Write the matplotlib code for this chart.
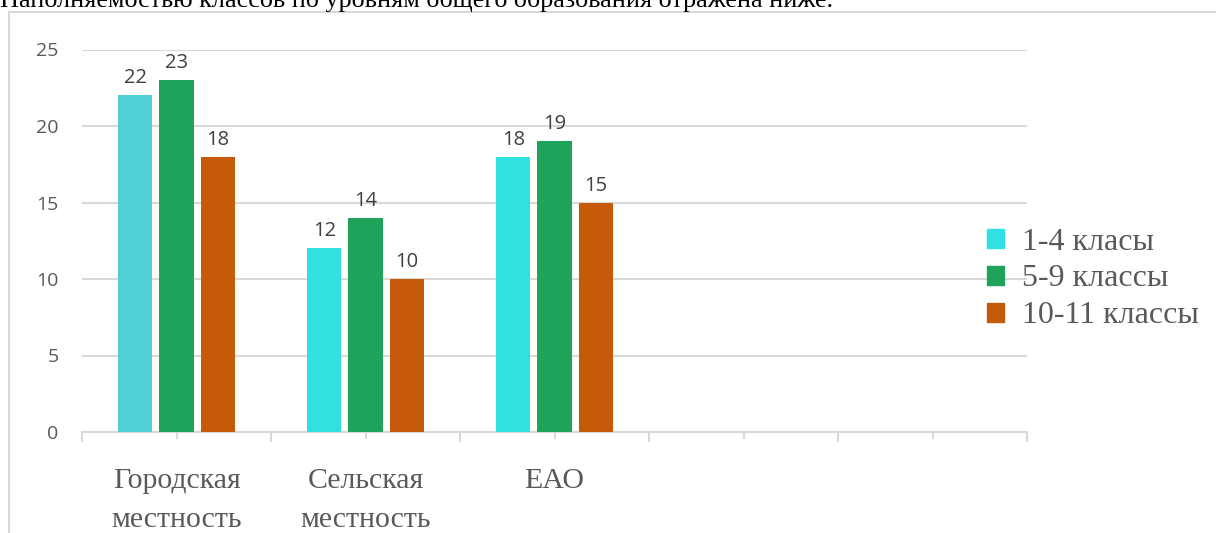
import matplotlib
matplotlib.use("Agg")
import matplotlib.pyplot as plt
from matplotlib.patches import Rectangle
from matplotlib.lines import Line2D
import numpy as np

categories = ["Городская\nместность", "Сельская\nместность", "ЕАО", "", ""]
series_names = ["1-4 класы", "5-9 классы", "10-11 классы"]
grades_1_4 = [22, 12, 18]
grades_5_9 = [23, 14, 19]
grades_10_11 = [18, 10, 15]
y_ticks = [0, 5, 10, 15, 20, 25]

colors = ["#31E1E1", "#1FA35A", "#C55A08"]
first_bar_color = "#4FD0D4"
text_gray = "#595959"

fig = plt.figure(figsize=(12.16, 5.33), dpi=100)
W, H = 1216, 533
ax = fig.add_axes([82 / W, 101 / H, (1027 - 82) / W, (432 - 49.5) / H])

# frame of the embedded chart
fig.add_artist(Line2D([9 / W, 9 / W], [0, (H - 12) / H], transform=fig.transFigure,
                      color="#D9D9D9", lw=1.5))
fig.add_artist(Line2D([9 / W, 1], [(H - 12) / H, (H - 12) / H], transform=fig.transFigure,
                      color="#D9D9D9", lw=1.5))

# cut-off sentence above chart
fig.text(0 / W, (H - 7) / H, "Наполняемостью классов по уровням общего образования отражена ниже.",
         family="Liberation Serif", fontsize=18.8, color="black", va="baseline", ha="left")

n_cat = len(categories)
x = np.arange(n_cat)
bw = 0.18
step = 0.218
series = [grades_1_4, grades_5_9, grades_10_11]
for i, vals in enumerate(series):
    xs = x[:len(vals)] + (i - 1) * step
    cols = [colors[i]] * len(vals)
    if i == 0:
        cols[0] = first_bar_color
    ax.bar(xs, vals, width=bw, color=cols, zorder=3, label=series_names[i])
    for xx, v in zip(xs, vals):
        ax.annotate(str(v), (xx, v), xytext=(0, 5), textcoords="offset points",
                    ha="center", va="bottom", fontsize=14.5, family="Open Sans",
                    color="#404040")

ax.set_xlim(-0.5, n_cat - 0.5)
ax.set_ylim(0, 25)
ax.set_yticks(y_ticks)
ax.yaxis.grid(True, color="#D9D9D9", lw=1.5, zorder=0)
ax.tick_params(axis="y", length=0, pad=17, labelsize=14, labelcolor=text_gray)
for lab in ax.get_yticklabels():
    lab.set_family("Open Sans")

ax.set_xticks(np.arange(n_cat + 1) - 0.5)
ax.set_xticklabels([])
ax.set_xticks(x, minor=True)
ax.set_xticklabels(categories, minor=True, family="Liberation Serif", fontsize=21.5,
                   color=text_gray, linespacing=1.62)
ax.tick_params(axis="x", which="major", length=7, color="#D9D9D9", width=1.5)
ax.tick_params(axis="x", which="minor", length=5, color="#D9D9D9", width=1.5, pad=21)

for s in ["top", "right", "left"]:
    ax.spines[s].set_visible(False)
ax.spines["bottom"].set_color("#D9D9D9")
ax.spines["bottom"].set_linewidth(1.5)
ax.set_axisbelow(True)

handles = [Rectangle((0, 0), 1, 1, color=c) for c in colors]
leg = fig.legend(handles, series_names, loc="center left", bbox_to_anchor=(958 / W, (H - 279) / H),
                 frameon=False, prop={"family": "Liberation Serif", "size": 23},
                 handlelength=0.55, handleheight=0.55, handletextpad=0.55, labelspacing=0.25,
                 labelcolor=text_gray)

fig.savefig("out.png", dpi=100)
